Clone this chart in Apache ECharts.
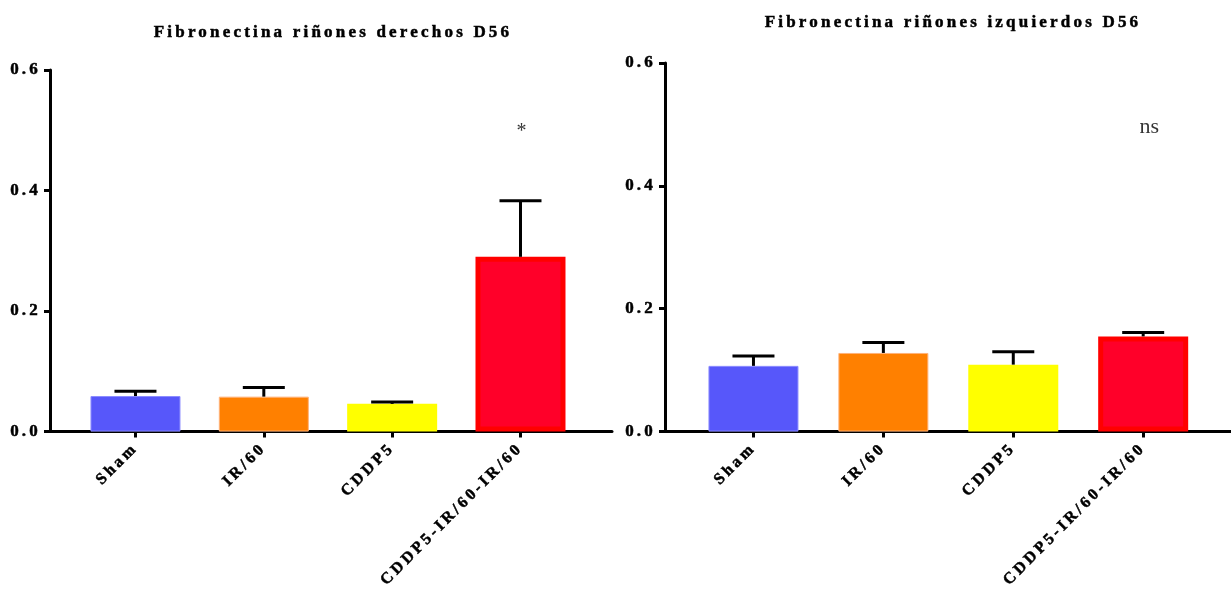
<!DOCTYPE html>
<html>
<head>
<meta charset="utf-8">
<script src="https://cdn.jsdelivr.net/npm/echarts@6/dist/echarts.min.js"></script>
<style>
  html, body { margin: 0; padding: 0; background: #fff; }
  #chart { width: 1231px; height: 592px; }
</style>
</head>
<body>
<div id="chart"></div>
<script>
// Group labels shared by both panels
const categories = ['Sham', 'IR/60', 'CDDP5', 'CDDP5-IR/60-IR/60'];
const yTicks = [0, 0.2, 0.4, 0.6];

// Right kidneys (derechos): mean and SEM
const rightMeans = [0.059, 0.058, 0.046, 0.290];
const rightSem   = [0.008, 0.015, 0.003, 0.093];
const rightSig   = '*';
const rightSigY  = 0.497;

// Left kidneys (izquierdos): mean and SEM
const leftMeans = [0.107, 0.128, 0.109, 0.155];
const leftSem   = [0.016, 0.017, 0.021, 0.0065];
const leftSig   = 'ns';
const leftSigY  = 0.495;

const titles = ['Fibronectina riñones derechos D56', 'Fibronectina riñones izquierdos D56'];

// Prism-style spaced lettering for the bold labels
(function () {
  const P = CanvasRenderingContext2D.prototype;
  if (!('letterSpacing' in P)) return;
  const sp = ctx => (/bold|700/.test(ctx.font) ? '3.2px' : '0px');
  const fill = P.fillText, stroke = P.strokeText, measure = P.measureText;
  P.fillText = function () { this.letterSpacing = sp(this); return fill.apply(this, arguments); };
  P.strokeText = function () { this.letterSpacing = sp(this); return stroke.apply(this, arguments); };
  P.measureText = function () { this.letterSpacing = sp(this); return measure.apply(this, arguments); };
})();

const SERIF = '"Liberation Serif", "Times New Roman", serif';
const barFill   = ['#5757fa', '#ff8000', '#ffff00', '#ff0029'];
const barBorder = ['#8c8cff', '#ffb27a', '#ffff00', '#ff0000'];
const barBorderW = [1, 1, 0, 5];

// heavy bold lettering
const boldText = { color: '#000', fontFamily: SERIF, fontWeight: 'bold', textBorderColor: '#000', textBorderWidth: 0.5 };

function xAxisFor(gridIndex, min, max) {
  return {
    gridIndex, type: 'value', min, max,
    axisLine: { show: true, onZero: false, lineStyle: { color: '#000', width: 3 } },
    axisTick: { show: true, customValues: [0, 1, 2, 3], length: 6, lineStyle: { color: '#000', width: 3 } },
    axisLabel: Object.assign({
      customValues: [0, 1, 2, 3],
      formatter: v => categories[Math.round(v)],
      rotate: 45, margin: 14, fontSize: 16
    }, boldText),
    splitLine: { show: false }
  };
}

function yAxisFor(gridIndex) {
  return {
    gridIndex, type: 'value', min: 0, max: 0.6, interval: 0.2,
    axisLine: { show: true, onZero: false, lineStyle: { color: '#000', width: 3 } },
    axisTick: { show: true, length: 6, lineStyle: { color: '#000', width: 3 } },
    axisLabel: Object.assign({ formatter: v => v.toFixed(1), margin: 9, fontSize: 17 }, boldText),
    splitLine: { show: false }
  };
}

function barSeries(idx, means) {
  return {
    type: 'bar', xAxisIndex: idx, yAxisIndex: idx,
    barWidth: 90, z: 2,
    data: means.map((m, i) => ({
      value: [i, m],
      itemStyle: {
        color: barFill[i], borderColor: barBorder[i], borderWidth: barBorderW[i]
      }
    }))
  };
}

function errorSeries(idx, means, sem) {
  return {
    type: 'custom', xAxisIndex: idx, yAxisIndex: idx, z: 3,
    data: means.map((m, i) => [i, m, sem[i]]),
    encode: { x: 0, y: 1 },
    renderItem: (params, api) => {
      const x = api.value(0), m = api.value(1), e = api.value(2);
      const base = api.coord([x, m]);
      const top = api.coord([x, m + e]);
      const half = 21;
      const style = { stroke: '#000', lineWidth: 3 };
      return {
        type: 'group',
        children: [
          { type: 'line', shape: { x1: base[0], y1: base[1], x2: top[0], y2: top[1] }, style },
          { type: 'line', shape: { x1: top[0] - half, y1: top[1], x2: top[0] + half, y2: top[1] }, style }
        ]
      };
    }
  };
}

function sigSeries(idx, text, y, offset, size) {
  return {
    type: 'scatter', xAxisIndex: idx, yAxisIndex: idx, symbolSize: 0, z: 4,
    data: [[3, y]],
    label: {
      show: true, position: 'inside', formatter: text, offset,
      color: '#000', fontFamily: SERIF, fontSize: size
    }
  };
}

const titleStyle = Object.assign({ fontSize: 17 }, boldText);

const chart = echarts.init(document.getElementById('chart'));
chart.setOption({
  backgroundColor: '#fff',
  animation: false,
  title: [
    { text: titles[0], left: 328, top: 18, textAlign: 'center', textStyle: titleStyle },
    { text: titles[1], left: 948, top: 8, textAlign: 'center', textStyle: titleStyle }
  ],
  grid: [
    { left: 50, right: 619, top: 70, bottom: 154 },
    { left: 665, right: 0, top: 63, bottom: 156 }
  ],
  xAxis: [xAxisFor(0, -0.666, 3.713), xAxisFor(1, -0.681, 3.676)],
  yAxis: [yAxisFor(0), yAxisFor(1)],
  series: [
    barSeries(0, rightMeans),
    errorSeries(0, rightMeans, rightSem),
    sigSeries(0, rightSig, rightSigY, [1, 0], 20),
    barSeries(1, leftMeans),
    errorSeries(1, leftMeans, leftSem),
    sigSeries(1, leftSig, leftSigY, [6, 0], 22)
  ]
});
</script>
</body>
</html>
